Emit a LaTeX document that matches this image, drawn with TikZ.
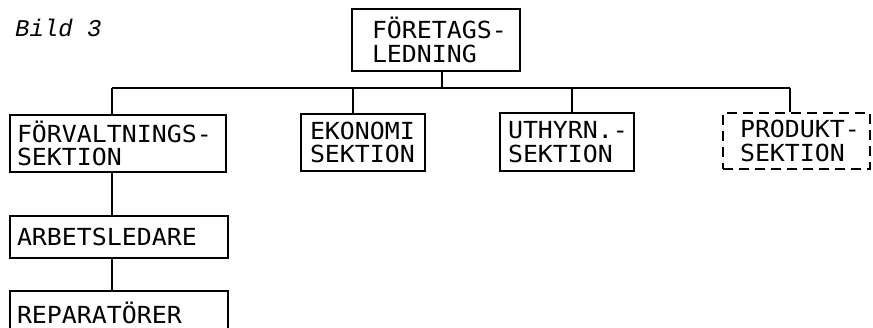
\documentclass[tikz,border=0pt]{standalone}
\usepackage{fontspec}
\newfontfamily\typewr[FakeStretch=1.06]{DejaVu Sans Mono}
\newfontfamily\typewrit{Liberation Mono Italic}
\usetikzlibrary{positioning}

\tikzset{
  box/.style={draw, line width=1.5pt, align=left, inner ysep=0pt,
    font=\typewr\fontsize{23.5}{23.5}\selectfont,
    execute at begin node={\hyphenpenalty=10000\exhyphenpenalty=10000}},
  dashbox/.style={box, dash pattern=on 10pt off 6pt},
  conn/.style={line width=1.5pt}
}

\begin{document}
\begin{tikzpicture}[x=1pt,y=-1pt]

\clip (0,0) rectangle (873,328);

% Rubrik
\node[anchor=base west, inner sep=0pt, font=\typewrit\fontsize{24}{24}\selectfont] (rubrik) at (15,37) {Bild 3};

% Ledning
\node[box, inner xsep=20pt, text width=128pt, minimum height=62pt] (ledning) at (436,40) {FÖRETAGS-\\LEDNING};

% Sektioner
\node[box, inner xsep=7pt, text width=202pt, minimum height=57pt] (forv) at (118,143.5) {FÖRVALTNINGS-\\SEKTION};
\node[box, inner xsep=9pt, text width=106pt, minimum height=57pt] (ekonomi) at (363,142.5) {EKONOMI\\SEKTION};
\node[box, inner xsep=8pt, text width=118pt, minimum height=58pt] (uthyrn) at (567,142) {UTHYRN.-\\SEKTION};
\node[dashbox, inner xsep=17pt, text width=113pt, minimum height=56pt] (produkt) at (796.5,141) {PRODUKT-\\SEKTION};

% Under förvaltningen
\node[box, inner xsep=7pt, text width=204pt, minimum height=42pt] (arbets) at (119,237) {ARBETSLEDARE};
\node[box, inner xsep=7pt, text width=204pt, minimum height=44pt] (repar) at (119,313) {REPARATÖRER};

% Linjer
\coordinate (jled) at (442,88);
\coordinate (jforv) at (112,88);
\coordinate (jeko) at (353,88);
\coordinate (juth) at (572,88);
\coordinate (jprod) at (790,88);

\draw[conn] (jled |- ledning.south) -- (jled);
\draw[conn] (jforv) -- (jprod);
\draw[conn] (jforv) -- (jforv |- forv.north);
\draw[conn] (jeko) -- (jeko |- ekonomi.north);
\draw[conn] (juth) -- (juth |- uthyrn.north);
\draw[conn] (jprod) -- (jprod |- produkt.north);
\draw[conn] (jforv |- forv.south) -- (jforv |- arbets.north);
\draw[conn] (jforv |- arbets.south) -- (jforv |- repar.north);

\end{tikzpicture}
\end{document}
